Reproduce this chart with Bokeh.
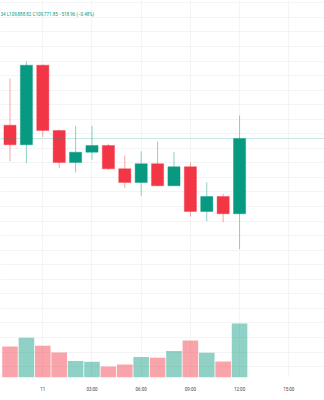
from bokeh.plotting import figure
from bokeh.models import Range1d, FixedTicker, ColumnDataSource, Span, Label
from bokeh.embed import file_html
from bokeh.resources import INLINE

# ---- data (hourly candles, x = hours from 00:00 on the 11th) ----
hours  = [-2, -1, 0, 1, 2, 3, 4, 5, 6, 7, 8, 9, 10, 11, 12]
opens  = [109918, 109649, 110743, 109845, 109405, 109547, 109639, 109319, 109131, 109388, 109085, 109346, 108732, 108938, 108700]
highs  = [110560, 110794, 110753, 109859, 109910, 109910, 109663, 109502, 109557, 109690, 109547, 109405, 109131, 108975, 110052]
lows   = [109423, 109396, 109753, 109327, 109268, 109443, 109305, 109052, 108948, 109076, 109080, 108663, 108599, 108585, 108214]
closes = [109649, 110743, 109845, 109405, 109547, 109639, 109319, 109131, 109388, 109085, 109346, 108732, 108938, 108700, 109735]
volumes = [775, 993, 793, 625, 410, 393, 275, 325, 510, 493, 660, 925, 618, 400, 1350]

tick_hours  = [0, 3, 6, 9, 12, 15]
tick_labels = ["11", "03:00", "06:00", "09:00", "12:00", "15:00"]
grid_prices = list(range(106600, 111601, 200))
legend_text = "34 L109,888.82 C109,771.85 \u2212518.96 (\u22120.48%)"

UP = "#089981"
DOWN = "#F23645"
colors = [UP if c >= o else DOWN for o, c in zip(opens, closes)]

src = ColumnDataSource(dict(
    x=hours, o=opens, h=highs, l=lows, c=closes, v=volumes,
    top=[max(o, c) for o, c in zip(opens, closes)],
    bot=[min(o, c) for o, c in zip(opens, closes)],
    color=colors,
))

p = figure(frame_width=324, frame_height=377, output_backend="svg", toolbar_location=None,
           x_range=Range1d(-2.58, 17.18), y_range=Range1d(106450, 111632),
           min_border_left=0, min_border_right=0, min_border_top=0, min_border_bottom=23,
           background_fill_color="white", border_fill_color="white")
p.outline_line_color = None

# volume overlay
p.extra_y_ranges = {"vol": Range1d(0, 9425)}
p.vbar(x="x", width=0.95, top="v", bottom=0, y_range_name="vol", source=src,
       fill_color="color", fill_alpha=0.45, line_color=None)

# last price line
p.add_layout(Span(location=closes[-1], dimension="width", line_color=UP, line_alpha=0.22, line_width=1))

# candles
p.segment(x0="x", y0="l", x1="x", y1="h", source=src, line_color="color", line_alpha=0.45, line_width=1)
p.vbar(x="x", width=0.74, top="top", bottom="bot", source=src,
       fill_color="color", line_color="color", line_alpha=0.4, line_width=1)

# axes & grid
p.yaxis.visible = False
p.ygrid.ticker = FixedTicker(ticks=grid_prices)
p.ygrid.grid_line_color = "#f4f4f4"
p.xgrid.ticker = FixedTicker(ticks=tick_hours)
p.xgrid.grid_line_color = "#f4f4f4"

xa = p.xaxis[0]
xa.ticker = FixedTicker(ticks=tick_hours)
xa.major_label_overrides = {h: t for h, t in zip(tick_hours, tick_labels)}
xa.axis_line_color = None
xa.major_tick_line_color = None
xa.minor_tick_line_color = None
xa.major_label_standoff = 3
xa.major_label_text_font = "Roboto"
xa.major_label_text_font_size = "4.5px"
xa.major_label_text_color = "#444444"

p.add_layout(Label(x=0, y=363, x_units="screen", y_units="screen", text=legend_text,
                   text_font="Roboto", text_font_size="4.5px", text_color=UP,
                   text_baseline="middle", text_align="left"))

open("out.html", "w").write(file_html(p, INLINE))
